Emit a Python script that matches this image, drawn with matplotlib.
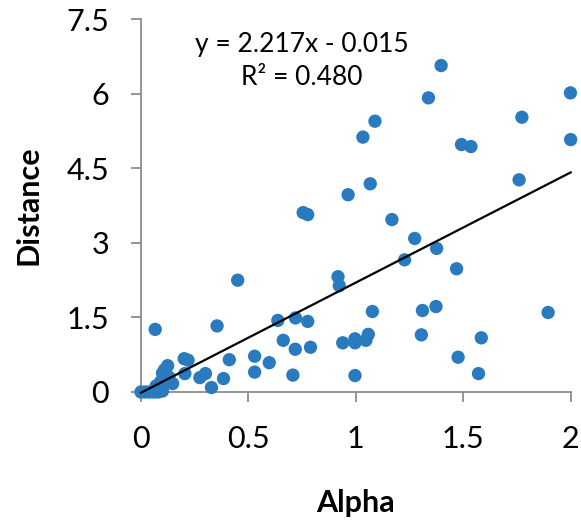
import numpy as np
import matplotlib
matplotlib.use('Agg')
import matplotlib.pyplot as plt

plt.rcParams['font.family'] = ['Lato', 'DejaVu Sans']

alpha = [0.0, 0.02, 0.04, 0.06, 0.08, 0.10, 0.07, 0.09, 0.10, 0.11,
         0.124, 0.108, 0.147, 0.13, 0.201, 0.219, 0.204, 0.066,
         0.274, 0.30, 0.328, 0.354, 0.384, 0.411, 0.45, 0.529, 0.529,
         0.597, 0.637, 0.662, 0.707, 0.718, 0.719, 0.755, 0.776, 0.776,
         0.789, 0.917, 0.923, 0.939, 0.964, 0.996, 0.996, 0.996, 1.033,
         1.047, 1.058, 1.067, 1.077, 1.089, 1.168, 1.227, 1.274, 1.305,
         1.31, 1.338, 1.373, 1.376, 1.397, 1.469, 1.476, 1.492, 1.536,
         1.571, 1.584, 1.76, 1.773, 1.895, 1.999, 2.0]
distance = [0.0, 0.0, 0.0, 0.0, 0.0, 0.02, 0.12, 0.2, 0.38, 0.45,
            0.53, 0.41, 0.17, 0.3, 0.67, 0.64, 0.37, 1.26,
            0.29, 0.37, 0.09, 1.33, 0.27, 0.65, 2.25, 0.72, 0.40,
            0.59, 1.44, 1.04, 0.34, 0.86, 1.49, 3.61, 3.57, 1.42,
            0.90, 2.32, 2.14, 0.99, 3.97, 1.07, 0.99, 0.33, 5.13,
            1.04, 1.16, 4.19, 1.62, 5.45, 3.47, 2.66, 3.09, 1.15,
            1.64, 5.92, 1.72, 2.89, 6.57, 2.48, 0.70, 4.98, 4.94,
            0.37, 1.09, 4.27, 5.53, 1.60, 6.02, 5.08]

# trendline from the fitted equation shown on the chart
slope = 2.217
intercept = -0.015
r2 = 0.480

fig = plt.figure(figsize=(5.81, 5.23), dpi=100)
ax = fig.add_axes([0.2427, 0.2505, 0.7395, 0.7125])

ax.scatter(alpha, distance, s=92, color='#2a7abf', edgecolors='none',
           zorder=3, clip_on=False)
xl = np.array([0, 2])
ax.plot(xl, slope * xl + intercept, color='black', lw=1.6, zorder=4,
        clip_on=False)

ax.set_xlim(0, 2)
ax.set_ylim(0, 7.5)
ax.set_xticks([0, 0.5, 1, 1.5, 2])
ax.set_xticklabels(['0', '0.5', '1', '1.5', '2'])
ax.set_yticks([0, 1.5, 3, 4.5, 6, 7.5])
ax.set_yticklabels(['0', '1.5', '3', '4.5', '6', '7.5'])

for s in ['top', 'right']:
    ax.spines[s].set_visible(False)
for s in ['left', 'bottom']:
    ax.spines[s].set_color('#8c8c8c')
    ax.spines[s].set_linewidth(1.3)
ax.tick_params(direction='out', length=7, width=1.3, color='#8c8c8c',
               labelsize=22)
ax.tick_params(axis='x', pad=17)
ax.tick_params(axis='y', pad=16)

ax.set_xlabel('Alpha', fontsize=22, fontweight='bold', va='center')
ax.set_ylabel('Distance', fontsize=22, fontweight='bold', va='center')
ax.xaxis.set_label_coords(0.5, -0.298)
ax.yaxis.set_label_coords(-0.261, 0.5)

fig.text(302 / 581, 1 - 51.7 / 523, 'y = 2.217x - 0.015', fontsize=19,
         ha='center', va='baseline')
fig.text(302 / 581, 1 - 85 / 523, 'R² = 0.480', fontsize=19,
         ha='center', va='baseline')

fig.savefig('out.png', dpi=100)
